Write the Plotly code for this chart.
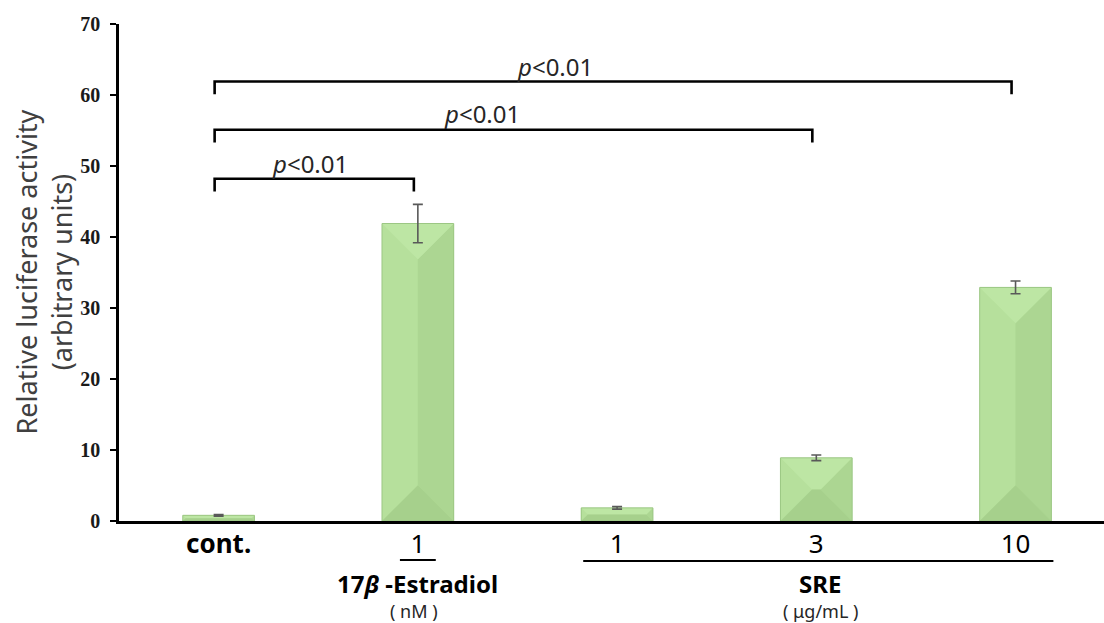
import plotly.graph_objects as go

# ---------------- data ----------------
categories = ["cont.", "E2 1 nM", "SRE 1", "SRE 3", "SRE 10"]
tick_labels = ["<b>cont.</b>", "1", "1", "3", "10"]
values = [0.8, 41.9, 1.85, 8.9, 32.9]
errors = [0.12, 2.7, 0.18, 0.4, 0.9]
comparisons = [1, 3, 4]            # index compared with control (index 0)
p_labels = ["<i>p</i><0.01", "<i>p</i><0.01", "<i>p</i><0.01"]

# ---------------- layout constants ----------------
W, H = 1104, 623
ML, MR, MT, MB = 119, 0, 24, 102
X_RANGE = [-0.5, 4.444]
Y_RANGE = [0, 70]
BAR_W = 0.36
bracket_levels = [48.2, 55.1, 61.9]
bracket_drop = 1.8
bracket_shift = -0.02
p_pos = [(0.46, 50.4), (1.32, 57.4), (1.69, 64.0)]

C_TOP, C_LEFT, C_RIGHT, C_BOT = "#bde6a4", "#b6e09c", "#acd692", "#a6d08c"
C_EDGE = "#9cc784"

plot_w = W - ML - MR
plot_h = H - MT - MB
sx = plot_w / (X_RANGE[1] - X_RANGE[0])
sy = plot_h / (Y_RANGE[1] - Y_RANGE[0])

xs = list(range(len(values)))

fig = go.Figure()
fig.add_trace(go.Bar(x=xs, y=values, width=BAR_W, marker=dict(color=C_LEFT, line=dict(width=0)),
                     hoverinfo="skip", showlegend=False))

# bevel facets
facets = {"top": ([], []), "bottom": ([], []), "left": ([], []), "right": ([], [])}
edge_x, edge_y = [], []
for xi, h in zip(xs, values):
    x0, x1 = xi - BAR_W / 2, xi + BAR_W / 2
    hw_px = BAR_W / 2 * sx
    d = min(hw_px, h * sy / 2)
    dx, dy = d / sx, d / sy
    ix0, ix1, iy0, iy1 = x0 + dx, x1 - dx, dy, h - dy
    polys = {
        "top": [(x0, h), (x1, h), (ix1, iy1), (ix0, iy1)],
        "bottom": [(x0, 0), (x1, 0), (ix1, iy0), (ix0, iy0)],
        "left": [(x0, 0), (x0, h), (ix0, iy1), (ix0, iy0)],
        "right": [(x1, 0), (x1, h), (ix1, iy1), (ix1, iy0)],
    }
    for k, pts in polys.items():
        fx, fy = facets[k]
        fx.extend([p[0] for p in pts] + [pts[0][0], None])
        fy.extend([p[1] for p in pts] + [pts[0][1], None])
    edge_x.extend([x0, x0, x1, x1, x0, None])
    edge_y.extend([0, h, h, 0, 0, None])

for k, col in [("left", C_LEFT), ("right", C_RIGHT), ("top", C_TOP), ("bottom", C_BOT)]:
    fx, fy = facets[k]
    fig.add_trace(go.Scatter(x=fx, y=fy, mode="lines", fill="toself", fillcolor=col,
                             line=dict(width=0, color=col), hoverinfo="skip", showlegend=False))
fig.add_trace(go.Scatter(x=edge_x, y=edge_y, mode="lines", line=dict(width=1, color=C_EDGE),
                         hoverinfo="skip", showlegend=False))

# error bars
fig.add_trace(go.Scatter(x=xs, y=values, mode="markers",
                         marker=dict(size=1, color="rgba(0,0,0,0)"),
                         error_y=dict(type="data", array=errors, visible=True, color="#595959",
                                      thickness=1.6, width=5),
                         hoverinfo="skip", showlegend=False))

shapes = []
# significance brackets
for tgt, lvl in zip(comparisons, bracket_levels):
    a = 0 + bracket_shift
    b = tgt + bracket_shift
    shapes.append(dict(type="path", xref="x", yref="y",
                       path=f"M {a},{lvl - bracket_drop} L {a},{lvl} L {b},{lvl} L {b},{lvl - bracket_drop}",
                       line=dict(color="black", width=2.6)))

def py_to_paper(py):
    return (MT + plot_h - py) / plot_h

# group underlines
shapes.append(dict(type="line", xref="x", yref="paper", x0=1 - 0.09, x1=1 + 0.09,
                   y0=py_to_paper(560), y1=py_to_paper(560), line=dict(color="black", width=2.2)))
shapes.append(dict(type="line", xref="x", yref="paper", x0=2 - 0.17, x1=4 + 0.19,
                   y0=py_to_paper(561), y1=py_to_paper(561), line=dict(color="black", width=2.2)))

annotations = []
for (px, pyv), txt in zip(p_pos, p_labels):
    annotations.append(dict(x=px, y=pyv, xref="x", yref="y", text=txt, showarrow=False,
                            xanchor="center", yanchor="middle",
                            font=dict(family="Noto Sans", size=24, color="#262626")))

annotations += [
    dict(x=1, y=py_to_paper(583), xref="x", yref="paper", text="<b>17<i>β</i> -Estradiol</b>",
         showarrow=False, xanchor="center", yanchor="middle",
         font=dict(family="Noto Sans", size=24, color="black")),
    dict(x=0.98, y=py_to_paper(611), xref="x", yref="paper", text="( nM )",
         showarrow=False, xanchor="center", yanchor="middle",
         font=dict(family="Noto Sans", size=18, color="#262626")),
    dict(x=3.02, y=py_to_paper(583), xref="x", yref="paper", text="<b>SRE</b>",
         showarrow=False, xanchor="center", yanchor="middle",
         font=dict(family="Noto Sans", size=24, color="black")),
    dict(x=3.02, y=py_to_paper(611), xref="x", yref="paper", text="( μg/mL )",
         showarrow=False, xanchor="center", yanchor="middle",
         font=dict(family="Noto Sans", size=18, color="#262626")),
    dict(x=(43 - ML) / plot_w, y=0.5, xref="paper", yref="paper",
         text="Relative luciferase activity<br>(arbitrary units)", textangle=-90,
         showarrow=False, xanchor="center", yanchor="middle",
         font=dict(family="Noto Sans", size=27, color="#404040")),
]

fig.update_layout(
    width=W, height=H, margin=dict(l=ML, r=MR, t=MT, b=MB, pad=0),
    paper_bgcolor="white", plot_bgcolor="white",
    shapes=shapes, annotations=annotations, bargap=0,
    xaxis=dict(range=X_RANGE, tickvals=xs, ticktext=tick_labels, showline=True, linecolor="black",
               linewidth=2.6, ticks="", showgrid=False, zeroline=False, ticklabelstandoff=-2,
               tickfont=dict(family="Noto Sans", size=26, color="black")),
    yaxis=dict(range=Y_RANGE, dtick=10, showline=True, linecolor="black", linewidth=2.6,
               ticks="outside", ticklen=6, tickwidth=2, tickcolor="black", showgrid=False,
               zeroline=False, ticklabelstandoff=6,
               tickfont=dict(family="Liberation Serif", size=20, color="#1a1a1a", weight="bold")),
)

fig.write_html("out.html")
